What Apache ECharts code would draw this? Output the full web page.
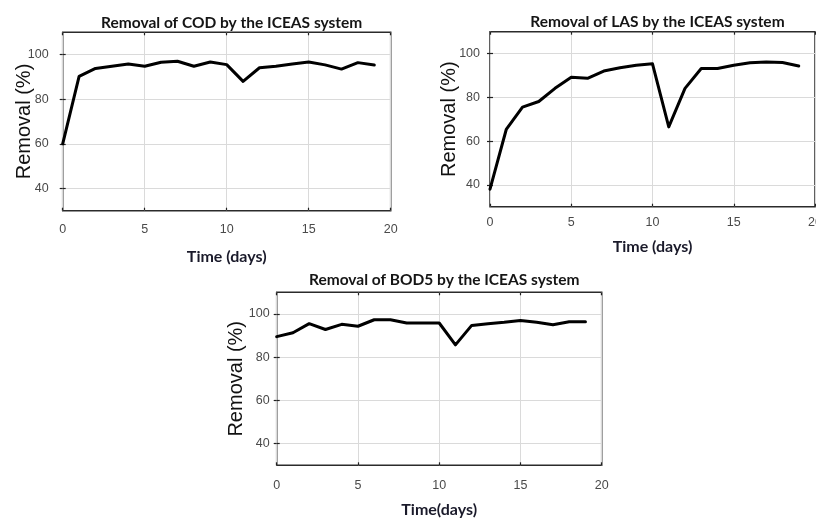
<!DOCTYPE html>
<html>
<head>
<meta charset="utf-8">
<script src="https://cdn.jsdelivr.net/npm/echarts@6/dist/echarts.min.js"></script>
<style>
html,body{margin:0;padding:0;background:#fff;}
#chart{width:816px;height:523px;}
</style>
</head>
<body>
<div id="chart"></div>
<script>
// ---- data ----
const days = [0,1,2,3,4,5,6,7,8,9,10,11,12,13,14,15,16,17,18,19];
const codRemoval = [60,90.2,93.8,94.8,95.8,94.8,96.6,97,94.8,96.7,95.5,88,94.1,94.8,95.8,96.7,95.4,93.5,96.4,95.3];
const lasRemoval = [38,65.3,75.5,78.1,84.1,89.2,88.7,92,93.5,94.7,95.3,66.5,84.1,93.2,93.2,94.7,95.8,96.1,95.9,94.3];
const bodRemoval = [89.5,91.3,95.5,92.8,95.2,94.3,97.3,97.3,95.8,95.8,95.8,85.7,94.7,95.5,96.1,97,96.1,95,96.4,96.4];
const xTicks = [0,5,10,15,20];
const yTicks = [40,60,80,100];
const titles = ['Removal of COD by the ICEAS system','Removal of LAS by the ICEAS system','Removal of BOD5 by the ICEAS system'];
const xNames = ['Time (days)','Time (days)','Time(days)'];
const yName = 'Removal (%)';
const seriesList = [codRemoval, lasRemoval, bodRemoval];

// ---- layout ----
const grids = [
  {left:62.7, top:32.3, width:328, height:178.4},
  {left:490, top:31.7, width:325, height:175},
  {left:276.7, top:292.3, width:325, height:173}
];
const xLabelMargin = [12, 9, 14];
const yLabelMargin = [14, 10, 7];
const xNameGap = [38, 32, 37];
const yNameGap = [28, 31, 30];
const titleTop = [10, 9, 267];

const tickFont = 'Liberation Sans Narrow, Arial Narrow, Liberation Sans, sans-serif';
const titleFont = 'Lato, Open Sans, sans-serif';

const option = {
  backgroundColor:'#fff',
  animation:false,
  title: grids.map((g,i)=>({
    text: titles[i],
    left: g.left + g.width/2,
    top: titleTop[i],
    textAlign:'center',
    textStyle:{fontFamily:titleFont, fontSize:15.5, fontWeight:'bold', color:'#151515'}
  })),
  grid: grids.map(g=>({left:g.left, top:g.top, width:g.width, height:g.height, show:true, borderColor:'#2b2b2b', borderWidth:1.5, backgroundColor:'transparent', containLabel:false, outerBoundsMode:'none'})),
  xAxis: [],
  yAxis: [],
  series: []
};

grids.forEach((g,i)=>{
  option.xAxis.push({
    type:'value', gridIndex:i, min:0, max:20, interval:5, position:'bottom',
    name: xNames[i], nameLocation:'middle', nameGap:xNameGap[i], nameMoveOverlap:false,
    nameTextStyle:{fontFamily:titleFont, fontSize:16, fontWeight:'bold', color:'#1a1a2a'},
    axisLine:{show:false},
    axisTick:{show:true, inside:true, length:3, lineStyle:{color:'#222', width:1.2}},
    axisLabel:{show:true, margin:xLabelMargin[i], fontFamily:tickFont, fontSize:12.5, color:'#4a4a4a', customValues:xTicks, hideOverlap:false},
    splitLine:{show:true, lineStyle:{color:'#dadada', width:1}}
  });
  option.xAxis.push({
    type:'value', gridIndex:i, min:0, max:20, interval:5, position:'top',
    axisLine:{show:false},
    axisTick:{show:true, inside:true, length:3, lineStyle:{color:'#222', width:1.2}},
    axisLabel:{show:false}, splitLine:{show:false}
  });
  option.yAxis.push({
    type:'value', gridIndex:i, min:30, max:110, position:'left',
    name: yName, nameLocation:'middle', nameGap:yNameGap[i], nameRotate:90, nameMoveOverlap:false,
    nameTextStyle:{fontFamily:'Liberation Sans, Arial, sans-serif', fontSize:20, color:'#111'},
    axisLine:{show:false},
    axisTick:{show:true, inside:true, length:3, customValues:yTicks, lineStyle:{color:'#222', width:1.2}},
    axisLabel:{show:true, margin:yLabelMargin[i], fontFamily:tickFont, fontSize:12.5, color:'#4a4a4a', customValues:yTicks},
    splitLine:{show:true, lineStyle:{color:'#dadada', width:1}}
  });
  option.yAxis.push({
    type:'value', gridIndex:i, min:30, max:110, position:'right',
    axisLine:{show:false},
    axisTick:{show:true, inside:true, length:3, customValues:yTicks, lineStyle:{color:'#222', width:1.2}},
    axisLabel:{show:false}, splitLine:{show:false}
  });
  option.series.push({
    type:'line', xAxisIndex:i*2, yAxisIndex:i*2,
    data: days.map((d,k)=>[d, seriesList[i][k]]),
    showSymbol:false, symbol:'none',
    lineStyle:{color:'#000', width:3, join:'round', cap:'round'},
    clip:true
  });
});

const chart = echarts.init(document.getElementById('chart'), null, {renderer:'canvas'});
chart.setOption(option);
</script>
</body>
</html>
